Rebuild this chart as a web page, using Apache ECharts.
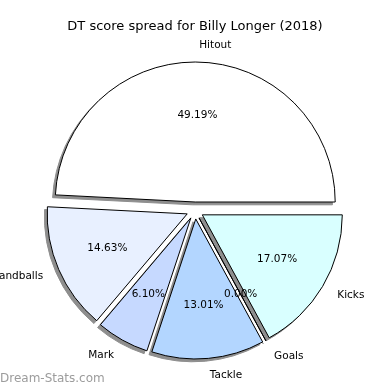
<!DOCTYPE html>
<html><head><meta charset="utf-8">
<script src="https://cdn.jsdelivr.net/npm/echarts@6/dist/echarts.min.js"></script>
<style>html,body{margin:0;padding:0;background:#fff}#c{width:390px;height:390px}</style>
</head><body><div id="c"></div>
<script>
const categories = ['Hitout','Handballs','Mark','Tackle','Goals','Kicks'];
const values = [49.19, 14.63, 6.10, 13.01, 0.00, 17.07];
const colors = ['#ffffff','#e8f0ff','#c6d9ff','#b3d6ff','#c0e0ff','#d9ffff'];
const titleText = 'DT score spread for Billy Longer (2018)';
const watermark = 'Dream-Stats.com';

const FONT = 'DejaVu Sans';
const CX = 195, CY = 210.5, R = 140, OFF = 8.5, SH = 2.8;

function mkData(style) {
  return categories.map((n, i) => Object.assign({name: n, value: values[i], selected: true}, style(i)));
}
// label alignment like matplotlib: left if slice centre is on right half
let acc = 0;
const mids = values.map(v => { const m = (acc + v / 2) / 100 * 360; acc += v; return m; });
const alignOf = i => Math.cos(mids[i] * Math.PI / 180) >= 0 ? 'left' : 'right';

const base = {
  type: 'pie', center: [CX, CY], startAngle: 0, clockwise: false,
  selectedMode: 'multiple', selectedOffset: OFF, animation: false,
  avoidLabelOverlap: false, silent: true, labelLine: {show: false},
  emphasis: {disabled: true}
};

const chart = echarts.init(document.getElementById('c'), null, {renderer: 'canvas'});
chart.setOption({
  backgroundColor: '#ffffff',
  title: {text: titleText, left: 'center', top: 15,
    textStyle: {fontFamily: FONT, fontSize: 13, fontWeight: 'normal', color: '#000'}},
  graphic: [{type: 'text', left: 0, top: 373,
    style: {text: watermark, fontFamily: FONT, fontSize: 12, fontWeight: 'normal', fill: '#9c9c9c'}}],
  series: [
    // shadows (offset copy, like matplotlib shadow=True)
    Object.assign({}, base, {
      center: [CX - SH, CY + SH], radius: [0, R], z: 1,
      label: {show: false},
      itemStyle: {color: '#8e8e8e', borderColor: '#8e8e8e', borderWidth: 1},
      data: mkData(i => ({}))
    }),
    Object.assign({}, base, {
      radius: [0, R], z: 2,
      label: {show: false},
      data: mkData(i => ({itemStyle: {color: colors[i], borderColor: '#000', borderWidth: 1}}))
    }),
    Object.assign({}, base, {
      radius: [0, R * 1.2], z: 3,
      itemStyle: {color: 'rgba(0,0,0,0)', borderWidth: 0},
      label: {show: true, position: 'inside', fontFamily: FONT, fontSize: 10.5, color: '#000',
        formatter: p => p.value.toFixed(2) + '%'},
      labelLayout: {hideOverlap: false, moveOverlap: null},
      data: mkData(i => ({}))
    }),
    Object.assign({}, base, {
      radius: [0, R * 2.2], z: 3,
      itemStyle: {color: 'rgba(0,0,0,0)', borderWidth: 0},
      label: {show: true, position: 'inside', fontFamily: FONT, fontSize: 10.5, color: '#000',
        formatter: '{b}'},
      labelLayout: p => ({align: alignOf(p.dataIndex), hideOverlap: false}),
      data: mkData(i => ({}))
    })
  ]
});
</script></body></html>
